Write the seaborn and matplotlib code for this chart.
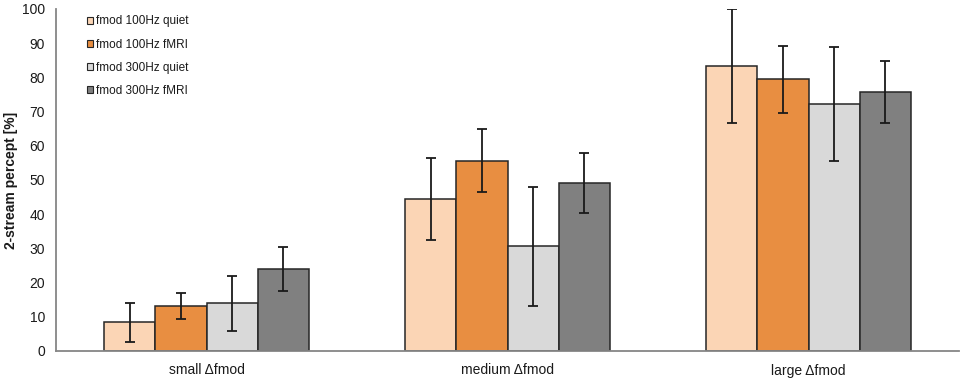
import numpy as np
import pandas as pd
import matplotlib
matplotlib.use("Agg")
import matplotlib.pyplot as plt
import seaborn as sns
from matplotlib.patches import Patch

categories = ["small \u0394fmod", "medium \u0394fmod", "large \u0394fmod"]
series = ["fmod 100Hz quiet", "fmod 100Hz fMRI", "fmod 300Hz quiet", "fmod 300Hz fMRI"]
values = {
    "fmod 100Hz quiet": [8.4, 44.4, 83.3],
    "fmod 100Hz fMRI": [13.2, 55.7, 79.4],
    "fmod 300Hz quiet": [13.9, 30.6, 72.2],
    "fmod 300Hz fMRI": [23.9, 49.1, 75.8],
}
errors = {
    "fmod 100Hz quiet": [5.7, 11.9, 16.7],
    "fmod 100Hz fMRI": [3.8, 9.1, 9.8],
    "fmod 300Hz quiet": [8.0, 17.4, 16.6],
    "fmod 300Hz fMRI": [6.5, 8.8, 9.1],
}
colors = ["#FBD5B5", "#E88E41", "#D9D9D9", "#808080"]
yticks = list(range(0, 101, 10))

sns.set_theme(style="white")
plt.rcParams["font.family"] = ["Liberation Sans", "DejaVu Sans"]

rows = []
for s in series:
    for c, v in zip(categories, values[s]):
        rows.append({"category": c, "series": s, "value": v})
df = pd.DataFrame(rows)

fig = plt.figure(figsize=(9.64, 3.79), dpi=100)
ax = fig.add_axes([56 / 964, 1 - 351 / 379, (959 - 56) / 964, (351 - 9) / 379])

sns.barplot(data=df, x="category", y="value", hue="series", order=categories,
            hue_order=series, palette=colors, errorbar=None, width=0.68,
            edgecolor="#262626", linewidth=1.1, saturation=1, ax=ax, legend=False)

# error bars from patch positions
patches = list(ax.patches)
for i, s in enumerate(series):
    for j, c in enumerate(categories):
        p = patches[i * len(categories) + j]
        xc = p.get_x() + p.get_width() / 2
        ax.errorbar(xc, values[s][j], yerr=errors[s][j], fmt="none",
                    ecolor="#1a1a1a", elinewidth=1.3, capsize=3.5, capthick=1.3, zorder=5)

ax.set_xlim(-0.5, 2.5)
ax.set_ylim(0, 100)
ax.set_yticks(yticks)
ax.set_yticklabels([str(t) for t in yticks], fontsize=10, color="#1a1a1a")
ax.set_xlabel("")
ax.set_ylabel("2-stream percept [%]", fontsize=10, fontweight="bold", color="#1a1a1a", labelpad=3)
ax.tick_params(axis="x", which="major", length=0, labelsize=10, labelcolor="#1a1a1a", pad=9)
ax.set_xticks([0.5, 1.5, 2.5], minor=True)
ax.tick_params(axis="x", which="minor", length=5, width=1.2, color="#868686", direction="out")
ax.tick_params(axis="y", which="major", length=5, width=1.2, color="#868686", direction="out", pad=3)
for side in ["top", "right"]:
    ax.spines[side].set_visible(False)
for side in ["left", "bottom"]:
    ax.spines[side].set_color("#868686")
    ax.spines[side].set_linewidth(1.3)

handles = [Patch(facecolor=col, edgecolor="#262626", linewidth=0.8, label=s)
           for col, s in zip(colors, series)]
leg = ax.legend(handles=handles, loc="upper left", bbox_to_anchor=(29 / 903, 1.0 - 4 / 342),
                frameon=False, fontsize=8.5, handlelength=0.5, handleheight=0.5,
                handletextpad=0.2, labelspacing=0.95, borderpad=0.2, borderaxespad=0)
for t in leg.get_texts():
    t.set_color("#1a1a1a")

fig.savefig("out.png", dpi=100)
